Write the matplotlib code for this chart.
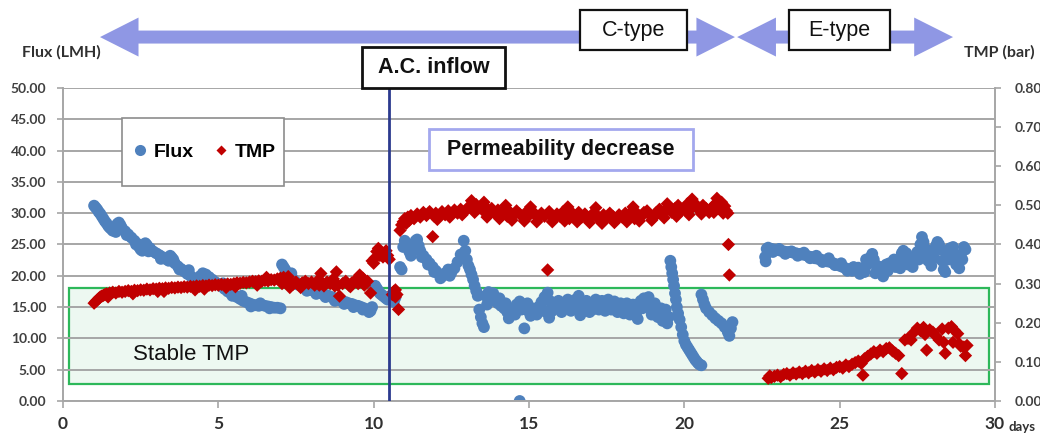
import matplotlib
matplotlib.use("Agg")
import matplotlib.pyplot as plt
from matplotlib.patches import Rectangle, Polygon
from matplotlib.lines import Line2D
from matplotlib import transforms

# Flux (LMH) over operating days
flux_day = [
    1.00, 1.05, 1.10, 1.15, 1.20, 1.25, 1.30, 1.35, 1.40, 1.45, 1.50, 1.55, 1.60, 1.70, 1.75, 1.80,
    1.85, 1.90, 2.00, 2.10, 2.20, 2.30, 2.40, 2.45, 2.50, 2.55, 2.60, 2.65, 2.70, 2.80, 2.90, 3.00,
    3.10, 3.20, 3.30, 3.40, 3.50, 3.55, 3.60, 3.70, 3.80, 3.90, 4.00, 4.10, 4.20, 4.30, 4.40, 4.50,
    4.60, 4.70, 4.80, 4.90, 5.00, 5.10, 5.20, 5.30, 5.40, 5.50, 5.60, 5.70, 5.80, 5.90, 6.00, 6.10,
    6.20, 6.30, 6.40, 6.50, 6.60, 6.70, 6.80, 6.90, 7.00,
    7.05, 7.10, 7.15, 7.20, 7.30, 7.40, 7.50, 7.60, 7.70, 7.80, 7.90, 8.00, 8.10, 8.20, 8.30, 8.40,
    8.50, 8.60, 8.70, 8.80, 8.90, 9.00, 9.10, 9.20, 9.30, 9.40, 9.50, 9.60, 9.70, 9.80, 9.90, 9.95,
    10.00, 10.05, 10.10, 10.15, 10.20, 10.25, 10.30, 10.35, 10.40, 10.45,
    10.60, 10.65, 10.70, 10.85, 10.90,
    10.95, 11.00, 11.05, 11.10, 11.15, 11.20, 11.25, 11.30, 11.35, 11.40, 11.45, 11.50, 11.60, 11.70,
    11.80, 11.90, 12.00, 12.10, 12.20, 12.30, 12.40, 12.50, 12.60, 12.70, 12.80, 12.90, 12.95, 13.00,
    13.05, 13.10, 13.15, 13.20, 13.25, 13.30, 13.35, 13.40, 13.45, 13.50, 13.55,
    13.60, 13.70, 13.80, 13.90, 14.00, 14.10, 14.20, 14.30, 14.40, 14.50, 14.60, 14.70, 14.70, 14.80,
    14.85, 14.90, 15.00, 15.10, 15.20, 15.30, 15.40, 15.50, 15.60, 15.65, 15.70, 15.80, 15.90, 16.00,
    16.10, 16.20, 16.30, 16.40, 16.50, 16.60, 16.65, 16.70, 16.80, 16.90, 17.00, 17.10, 17.20, 17.30,
    17.40, 17.50, 17.60, 17.70, 17.80, 17.90, 18.00, 18.10, 18.20, 18.30, 18.40, 18.50, 18.55, 18.60,
    18.70, 18.80, 18.90, 19.00, 19.10, 19.20, 19.30, 19.40, 19.50,
    19.55, 19.58, 19.61, 19.64, 19.67, 19.70, 19.73, 19.76, 19.80, 19.85, 19.90, 19.95, 20.00, 20.05,
    20.10, 20.15, 20.20, 20.25, 20.30, 20.35, 20.40, 20.45, 20.50, 20.55,
    20.55, 20.60, 20.65, 20.70, 20.80, 20.90, 21.00, 21.10, 21.20, 21.30, 21.40, 21.45, 21.50, 21.55,
    22.60, 22.62, 22.65, 22.70, 22.80, 22.90, 23.00, 23.10, 23.20, 23.30, 23.40, 23.50, 23.60, 23.70,
    23.80, 23.90, 24.00, 24.10, 24.20, 24.30, 24.40, 24.50, 24.60, 24.70, 24.80, 24.90, 25.00, 25.10,
    25.20, 25.30, 25.40, 25.50, 25.60, 25.70, 25.80, 25.90, 26.00, 26.05, 26.10, 26.20, 26.30, 26.40,
    26.45, 26.50, 26.60, 26.70, 26.80, 26.90, 27.00, 27.05, 27.10, 27.20, 27.30, 27.40, 27.50, 27.60,
    27.65, 27.70, 27.75, 27.80, 27.85, 27.90, 28.00, 28.10, 28.15, 28.20, 28.25, 28.30, 28.35, 28.40,
    28.50, 28.55, 28.60, 28.70, 28.75, 28.80, 28.90, 29.00, 29.05,
]
flux_lmh = [
    31.2, 30.9, 30.6, 30.2, 29.9, 29.5, 29.1, 28.7, 28.4, 28.0, 27.7, 27.5, 27.2, 27.0, 28.3, 28.5,
    28.1, 27.6, 27.1, 26.6, 26.1, 25.6, 25.1, 24.6, 24.2, 24.0, 24.6, 25.2, 24.9, 24.4, 23.9, 23.6,
    23.3, 23.0, 22.7, 22.4, 22.9, 22.6, 22.0, 21.5, 21.1, 20.7, 20.3, 20.0, 19.6, 19.4, 19.9, 20.4,
    20.2, 19.8, 19.4, 19.0, 18.7, 18.3, 17.9, 17.5, 17.2, 16.9, 16.6, 16.3, 16.0, 15.8, 15.6, 15.4,
    15.3, 15.2, 15.3, 15.2, 15.1, 15.0, 14.9, 14.9, 14.8,
    21.8, 21.4, 21.0, 20.5, 20.0, 19.5, 19.0, 18.6, 18.3, 18.1, 17.9, 17.7, 17.6, 17.4, 17.2, 17.0,
    16.9, 16.7, 16.5, 16.3, 16.1, 15.9, 15.8, 15.6, 15.5, 15.3, 15.2, 15.0, 14.8, 14.6, 14.4, 15.0,
    17.8, 18.4, 18.0, 17.6, 17.2, 17.0, 16.8, 16.6, 16.4, 16.2,
    17.0, 15.8, 16.5, 21.4, 21.0,
    24.6, 25.6, 25.2, 24.5, 23.8, 23.2, 24.2, 25.0, 25.6, 25.8, 24.8, 24.0, 23.2, 22.6,
    22.0, 21.4, 20.8, 20.3, 19.9, 20.4, 21.0, 20.5, 21.2, 22.2, 23.4, 25.6, 24.0, 22.6,
    21.6, 21.0, 20.2, 19.4, 18.4, 17.6, 16.8, 14.6, 13.4, 12.4, 11.8,
    16.8, 17.4, 16.6, 16.0, 15.6, 15.2, 14.8, 14.2, 13.9, 14.6, 15.4, 15.9, 0.0, 15.2,
    11.6, 14.6, 14.3, 14.8, 14.4, 15.0, 15.8, 16.6, 17.3, 13.3, 15.9, 15.3, 14.9, 15.2,
    15.6, 15.4, 15.1, 15.6, 16.2, 16.8, 13.7, 15.7, 15.2, 15.0, 15.3, 15.4, 15.6, 15.5,
    15.2, 15.4, 15.5, 15.3, 15.0, 14.8, 15.1, 14.7, 14.5, 14.9, 14.4, 13.1, 15.6, 16.0,
    16.4, 15.8, 15.2, 14.8, 14.4, 13.9, 12.8, 14.6, 13.4,
    22.4, 21.4, 20.4, 19.4, 18.4, 17.2, 16.2, 15.0, 14.0, 13.0, 11.8, 10.6, 9.6, 9.0,
    8.6, 8.2, 7.8, 7.4, 7.0, 6.6, 6.3, 6.0, 5.8, 5.7,
    17.0, 16.2, 15.4, 14.8, 14.2, 13.7, 13.2, 12.8, 12.4, 11.8, 11.0, 10.4, 11.6, 12.6,
    23.0, 22.3, 24.3, 24.5, 24.3, 24.2, 24.1, 24.0, 23.9, 23.8, 23.8, 23.7, 23.6, 23.5,
    23.4, 23.3, 23.1, 23.0, 22.8, 22.7, 22.6, 22.4, 22.3, 22.2, 22.0, 21.8, 21.6, 21.4,
    21.2, 21.0, 20.8, 20.9, 21.3, 21.0, 20.6, 21.8, 23.0, 23.5, 22.6, 21.6, 20.6, 19.9,
    21.0, 21.8, 22.0, 21.6, 21.4, 22.4, 23.6, 24.0, 22.8, 21.8, 22.4, 23.0, 23.8, 25.0,
    26.2, 25.4, 24.4, 23.6, 22.4, 23.0, 24.0, 24.8, 25.4, 25.0, 24.2, 22.4, 21.0, 20.6,
    22.6, 24.4, 23.8, 23.0, 21.8, 22.4, 23.4, 24.6, 24.2,
]
# second set of flux readings taken between the ones above
flux_day_b = [
    1.65, 2.05, 2.35, 2.75, 3.15, 3.45, 3.75, 4.05, 4.35, 4.65, 5.15, 5.45, 5.75, 6.05, 6.35, 6.65,
    7.35, 7.55, 7.85, 8.15, 8.45, 8.75, 9.05, 9.35, 9.65, 9.85,
    11.55, 11.75, 11.95, 12.15, 12.45,
    13.65, 13.75, 13.85, 14.05, 14.25, 14.35, 14.55, 14.75, 14.95, 15.05, 15.25, 15.45, 15.55, 15.75,
    15.95, 16.05, 16.25, 16.35, 16.45, 16.55, 16.75, 16.85, 16.95, 17.05, 17.15, 17.25, 17.35, 17.45,
    17.55, 17.65, 17.75, 17.85, 17.95, 18.05, 18.15, 18.25, 18.35, 18.45, 18.65, 18.75, 18.85, 18.95,
    19.05, 19.15, 19.25, 19.35, 19.45,
    22.85, 23.05, 23.25, 23.45, 23.65, 23.85, 24.05, 24.25, 24.45, 24.65, 24.85, 25.05, 25.25, 25.45,
    25.65, 25.85, 26.15, 26.35, 26.55, 26.75, 26.95, 27.15, 27.35, 27.55, 27.95, 28.05, 28.45, 28.65,
    28.85, 28.95,
]
flux_lmh_b = [
    27.8, 26.5, 25.0, 23.9, 22.7, 23.2, 21.0, 20.9, 19.0, 19.6, 18.8, 16.8, 16.8, 15.1, 15.6, 14.8,
    20.4, 18.6, 17.6, 17.1, 16.6, 16.0, 15.5, 15.0, 14.6, 14.2,
    23.0, 21.8, 20.6, 19.6, 20.0,
    15.4, 16.0, 17.2, 16.4, 15.6, 13.2, 13.8, 14.6, 15.6, 13.6, 13.8, 14.6, 14.2, 14.4,
    16.0, 14.2, 16.2, 14.4, 14.8, 15.2, 14.4, 16.0, 14.2, 14.6, 16.2, 14.6, 16.0, 14.4,
    16.2, 14.6, 15.9, 14.2, 15.6, 14.0, 15.6, 13.8, 15.4, 13.6, 14.8, 15.0, 16.6, 13.8,
    15.6, 13.4, 14.8, 13.6, 12.4,
    23.8, 24.3, 23.5, 23.9, 23.2, 23.7, 22.8, 23.2, 22.2, 22.8, 21.7, 22.0, 20.8, 21.4,
    20.3, 22.6, 20.4, 21.4, 20.8, 22.6, 21.2, 23.6, 21.4, 22.6, 21.6, 22.8, 23.4, 24.6,
    21.2, 22.6,
]

# Transmembrane pressure (bar) over operating days
tmp_day = [
    1.00, 1.05, 1.10, 1.15, 1.20, 1.25, 1.30, 1.35, 1.40, 1.50, 1.60, 1.70, 1.80, 1.90, 2.00, 2.10,
    2.20, 2.30, 2.40, 2.50, 2.60, 2.70, 2.80, 2.90, 3.00, 3.05, 3.10, 3.20, 3.30, 3.40, 3.50, 3.60,
    3.70, 3.80, 3.90, 4.00, 4.10, 4.20, 4.30, 4.40, 4.50, 4.55, 4.60, 4.70, 4.80, 4.90, 5.00, 5.10,
    5.20, 5.30, 5.40, 5.50, 5.55, 5.60, 5.70, 5.80, 5.90, 6.00, 6.10, 6.20, 6.30, 6.40, 6.50, 6.55,
    6.60, 6.70, 6.80, 6.90, 7.00, 7.10, 7.20, 7.25, 7.30, 7.40, 7.50, 7.60, 7.70, 7.80, 7.90, 8.00,
    8.10, 8.20, 8.30, 8.35, 8.40, 8.50, 8.60, 8.70, 8.80, 8.85, 8.90, 9.00, 9.10, 9.20, 9.30, 9.40,
    9.50, 9.55, 9.60, 9.70, 9.80, 9.90,
    9.95, 10.00, 10.05, 10.10, 10.15, 10.20, 10.25, 10.30, 10.35, 10.40, 10.45, 10.50,
    10.60, 10.65, 10.70, 10.70, 10.75, 10.80,
    10.85, 10.90, 10.95, 11.00, 11.05, 11.10, 11.15, 11.20, 11.30, 11.40, 11.50, 11.60, 11.70, 11.80,
    11.90, 11.95, 12.00, 12.10, 12.20, 12.30, 12.40, 12.50, 12.60, 12.70, 12.80, 12.90, 13.00, 13.10,
    13.20, 13.30, 13.40, 13.50, 13.60, 13.70, 13.80, 13.90, 14.00, 14.10, 14.20, 14.30, 14.40, 14.50,
    14.60, 14.70, 14.80, 14.90, 15.00, 15.10, 15.20, 15.30, 15.40, 15.50, 15.60, 15.65, 15.70, 15.80,
    15.90, 16.00, 16.10, 16.20, 16.30, 16.40, 16.50, 16.60, 16.70, 16.80, 16.90, 17.00, 17.10, 17.20,
    17.30, 17.40, 17.50, 17.60, 17.70, 17.80, 17.90, 18.00, 18.10, 18.20, 18.30, 18.40, 18.50, 18.60,
    18.70, 18.80, 18.90, 19.00, 19.10, 19.20, 19.30, 19.40, 19.50, 19.60, 19.70, 19.80, 19.90, 20.00,
    20.10, 20.20, 20.30, 20.40, 20.50, 20.60, 20.70, 20.80, 20.90, 21.00, 21.10, 21.20, 21.30, 21.35,
    21.40, 21.42, 21.45,
    22.70, 22.75, 22.80, 22.90, 23.00, 23.10, 23.20, 23.30, 23.40, 23.50, 23.60, 23.70, 23.80, 23.90,
    24.00, 24.10, 24.20, 24.30, 24.40, 24.50, 24.60, 24.70, 24.80, 24.90, 25.00, 25.10, 25.20, 25.30,
    25.40, 25.50, 25.60, 25.70, 25.75, 25.80, 25.90, 26.00, 26.10, 26.20, 26.30, 26.40, 26.50, 26.60,
    26.70, 26.80, 26.90, 27.00, 27.10, 27.20, 27.30, 27.40, 27.50, 27.60, 27.70, 27.75, 27.80, 27.90,
    28.00, 28.10, 28.20, 28.30, 28.35, 28.40, 28.50, 28.60, 28.65, 28.70, 28.80, 28.85, 28.90, 29.00,
    29.05, 29.10,
]
tmp_bar = [
    0.250, 0.254, 0.258, 0.262, 0.266, 0.268, 0.270, 0.272, 0.274, 0.276, 0.278, 0.276, 0.280, 0.278, 0.280, 0.282,
    0.280, 0.283, 0.282, 0.284, 0.283, 0.286, 0.284, 0.287, 0.286, 0.280, 0.288, 0.287, 0.289, 0.288, 0.290, 0.289,
    0.291, 0.290, 0.292, 0.291, 0.293, 0.292, 0.294, 0.293, 0.295, 0.286, 0.294, 0.296, 0.295, 0.297, 0.296, 0.298,
    0.297, 0.299, 0.298, 0.300, 0.292, 0.302, 0.301, 0.303, 0.302, 0.304, 0.306, 0.305, 0.307, 0.306, 0.308, 0.316,
    0.307, 0.310, 0.309, 0.312, 0.314, 0.316, 0.310, 0.318, 0.290, 0.298, 0.304, 0.296, 0.302, 0.306, 0.300, 0.304,
    0.296, 0.308, 0.326, 0.302, 0.294, 0.304, 0.300, 0.312, 0.330, 0.296, 0.268, 0.300, 0.306, 0.296, 0.302, 0.308,
    0.300, 0.322, 0.304, 0.296, 0.306, 0.276,
    0.358, 0.352, 0.366, 0.382, 0.390, 0.372, 0.380, 0.368, 0.376, 0.384, 0.372, 0.362,
    0.272, 0.280, 0.266, 0.284, 0.272, 0.234,
    0.436, 0.450, 0.458, 0.466, 0.454, 0.470, 0.462, 0.474, 0.466, 0.478, 0.470, 0.482, 0.474, 0.484,
    0.420, 0.472, 0.480, 0.474, 0.484, 0.476, 0.486, 0.478, 0.488, 0.480, 0.490, 0.482, 0.492, 0.498,
    0.490, 0.502, 0.494, 0.488, 0.496, 0.484, 0.492, 0.480, 0.488, 0.476, 0.486, 0.472, 0.482, 0.474,
    0.486, 0.478, 0.470, 0.482, 0.474, 0.486, 0.476, 0.468, 0.480, 0.472, 0.335, 0.484, 0.476, 0.466,
    0.478, 0.472, 0.484, 0.474, 0.466, 0.480, 0.472, 0.482, 0.470, 0.478, 0.464, 0.474, 0.482, 0.470,
    0.462, 0.476, 0.468, 0.480, 0.472, 0.464, 0.476, 0.470, 0.480, 0.472, 0.484, 0.466, 0.478, 0.470,
    0.482, 0.486, 0.474, 0.468, 0.482, 0.490, 0.476, 0.486, 0.496, 0.482, 0.492, 0.500, 0.486, 0.494,
    0.504, 0.490, 0.508, 0.496, 0.486, 0.500, 0.492, 0.482, 0.496, 0.504, 0.492, 0.508, 0.498, 0.486,
    0.480, 0.400, 0.322,
    0.058, 0.064, 0.060, 0.063, 0.066, 0.062, 0.068, 0.070, 0.066, 0.072, 0.069, 0.074, 0.070, 0.076,
    0.072, 0.078, 0.074, 0.080, 0.076, 0.082, 0.078, 0.084, 0.080, 0.086, 0.088, 0.084, 0.092, 0.088,
    0.094, 0.098, 0.102, 0.096, 0.066, 0.108, 0.114, 0.120, 0.126, 0.122, 0.130, 0.126, 0.134, 0.136,
    0.128, 0.122, 0.116, 0.070, 0.156, 0.160, 0.156, 0.176, 0.186, 0.180, 0.188, 0.170, 0.130, 0.182,
    0.176, 0.166, 0.156, 0.184, 0.150, 0.122, 0.186, 0.190, 0.150, 0.180, 0.172, 0.146, 0.140, 0.138,
    0.116, 0.142,
]
# second set of TMP readings taken between the ones above
tmp_day_b = [
    1.45, 2.25, 3.25, 4.25, 5.25, 6.25, 7.05, 7.65, 8.25, 8.75, 9.25, 9.65,
    12.05, 12.45, 12.85, 13.25, 13.65, 14.05, 14.45, 14.85, 15.25, 15.75, 16.15, 16.55, 16.95, 17.35,
    17.75, 18.15, 18.55, 18.95, 19.35, 19.75, 20.15, 20.55, 20.95, 21.25,
    13.15, 13.55, 14.25, 15.05, 16.25, 17.15, 18.35, 19.45, 20.25, 21.05,
]
tmp_bar_b = [
    0.266, 0.274, 0.280, 0.284, 0.290, 0.296, 0.300, 0.290, 0.296, 0.294, 0.292, 0.314,
    0.464, 0.470, 0.476, 0.482, 0.470, 0.466, 0.462, 0.460, 0.458, 0.458, 0.460, 0.458, 0.456, 0.454,
    0.456, 0.458, 0.460, 0.462, 0.468, 0.472, 0.476, 0.478, 0.482, 0.480,
    0.512, 0.508, 0.500, 0.496, 0.496, 0.494, 0.496, 0.504, 0.516, 0.518,
]

flux_ticks = [0, 5, 10, 15, 20, 25, 30, 35, 40, 45, 50]
tmp_ticks = [0.0, 0.1, 0.2, 0.3, 0.4, 0.5, 0.6, 0.7, 0.8]
day_ticks = [0, 5, 10, 15, 20, 25, 30]
inflow_day = 10.5

blue = "#4f81bd"
red = "#c00000"
arrow_col = "#8f97e4"
grid_col = "#a6a6a6"
tick_font = ["Lato", "DejaVu Sans"]
arial = ["Liberation Sans", "DejaVu Sans"]

fig = plt.figure(figsize=(10.4, 4.36), dpi=100)
ax = fig.add_axes([0.0606, 0.0803, 0.8961, 0.7179])
ax2 = ax.twinx()

# stable TMP zone
ax.add_patch(Rectangle((0.2, 2.7), 29.6, 15.35, facecolor="#edf8f1",
                       edgecolor="#2db85a", lw=1.6, zorder=0.3))

ax.scatter(flux_day + flux_day_b, flux_lmh + flux_lmh_b, s=72, color=blue,
           edgecolors="none", zorder=2)
ax2.scatter(tmp_day + tmp_day_b, tmp_bar + tmp_bar_b, s=46, marker="D", color=red,
            edgecolors="none", zorder=2)
ax2.axvline(inflow_day, color="#2b3a8e", lw=2.0, zorder=5)

ax.set_xlim(0, 30)
ax.set_ylim(0, 50)
ax2.set_ylim(0, 0.8)
ax.set_xticks(day_ticks)
ax.set_yticks(flux_ticks)
ax2.set_yticks(tmp_ticks)
ax.set_yticklabels(["%.2f" % v for v in flux_ticks])
ax2.set_yticklabels(["%.2f" % v for v in tmp_ticks])

ax.set_axisbelow(True)
ax.grid(axis="y", color=grid_col, lw=1.4)
for a in (ax, ax2):
    a.spines["top"].set_visible(False)
    for side in ("left", "right", "bottom"):
        a.spines[side].set_color(grid_col)
        a.spines[side].set_linewidth(1.2)

ax.tick_params(axis="y", length=4, width=1.2, color=grid_col, pad=8, labelsize=10, labelcolor="#404040")
ax.tick_params(axis="x", length=5, width=1.2, color=grid_col, pad=6, labelsize=12.5, labelcolor="#303030")
ax2.tick_params(axis="y", length=4, width=1.2, color=grid_col, pad=10, labelsize=10, labelcolor="#404040")
for lab in ax.get_xticklabels() + ax.get_yticklabels() + ax2.get_yticklabels():
    lab.set_family(tick_font)
    lab.set_fontweight("bold")

ax.text(1.014, -0.083, "days", transform=ax.transAxes, fontsize=9.5, fontweight="bold",
        family=tick_font, color="#303030", ha="left", va="center")
fig.text(0.021, 0.879, "Flux (LMH)", fontsize=11.5, fontweight="bold", family=tick_font,
         color="#303030", ha="left", va="center")
fig.text(0.927, 0.879, "TMP (bar)", fontsize=11.5, fontweight="bold", family=tick_font,
         color="#303030", ha="left", va="center")

ax.text(2.25, 7.4, "Stable TMP", fontsize=16, family=arial, color="#111111",
        ha="left", va="center", zorder=4)

# operating phase arrows above the plot
top = transforms.blended_transform_factory(ax.transData, fig.transFigure)


def double_arrow(x0, x1, head, yc=0.915, shaft=0.0149, half=0.0447):
    pts = [(x0, yc), (x0 + head, yc + half), (x0 + head, yc + shaft), (x1 - head, yc + shaft),
           (x1 - head, yc + half), (x1, yc), (x1 - head, yc - half), (x1 - head, yc - shaft),
           (x0 + head, yc - shaft), (x0 + head, yc - half)]
    fig.add_artist(Polygon(pts, closed=True, transform=top, facecolor=arrow_col,
                           edgecolor="none", clip_on=False))


double_arrow(1.19, 21.63, 1.24)
double_arrow(21.70, 28.65, 1.25)


def boxed(x0, y0, x1, y1, text, edge, lw, size, weight="normal"):
    fig.add_artist(Rectangle((x0, y0), x1 - x0, y1 - y0, transform=fig.transFigure,
                             facecolor="white", edgecolor=edge, lw=lw, zorder=6))
    fig.text((x0 + x1) / 2, (y0 + y1) / 2, text, fontsize=size, fontweight=weight, family=arial,
             color="#111111", ha="center", va="center", zorder=7)


boxed(0.5575, 0.885, 0.6605, 0.977, "C-type", "#111111", 1.6, 15.5)
boxed(0.7587, 0.885, 0.8558, 0.977, "E-type", "#111111", 1.6, 15.5)
boxed(0.3481, 0.798, 0.4856, 0.892, "A.C. inflow", "#111111", 2.0, 15.5, "bold")
boxed(0.4125, 0.610, 0.6663, 0.704, "Permeability decrease", "#a3a8ee", 2.0, 15.5, "bold")

# legend frame drawn separately so its padding can differ per side
fig.add_artist(Rectangle((0.1173, 0.5734), 0.1558, 0.156, transform=fig.transFigure,
                         facecolor="white", edgecolor="#8c8c8c", lw=1.2, zorder=6))
handles = [
    Line2D([], [], ls="none", marker="o", ms=8, color=blue, mec="none", label="Flux"),
    Line2D([], [], ls="none", marker="D", ms=5, color=red, mec="none", label="TMP"),
]
leg = fig.legend(handles=handles, loc="center", bbox_to_anchor=(0.1965, 0.6514), ncol=2,
                 frameon=False, handlelength=0.8, handletextpad=0.3, columnspacing=1.0,
                 prop={"family": arial, "weight": "bold", "size": 14})
leg.set_zorder(7)

fig.savefig("out.png", dpi=100)
